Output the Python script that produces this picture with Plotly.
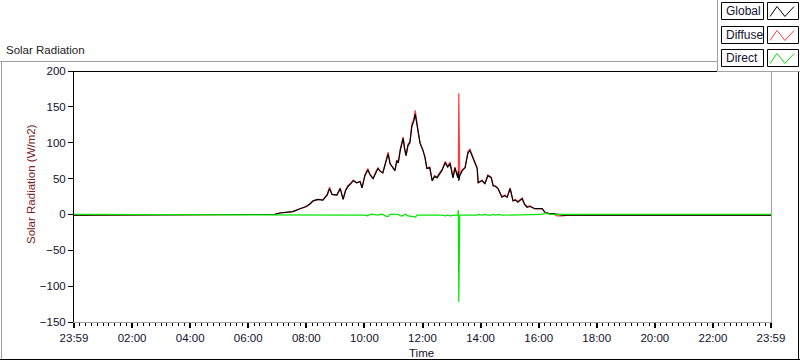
import plotly.graph_objects as go

# ---------------- data ----------------
times = [
    "00:00", "06:50", "06:55", "07:05", "07:20", "07:32", "07:47", "08:00", "08:08", "08:14", "08:24", "08:34",
    "08:43", "08:48", "08:53", "09:03", "09:10", "09:16", "09:21", "09:26", "09:32", "09:37", "09:44", "09:51",
    "09:55", "10:01", "10:07", "10:12", "10:18", "10:23", "10:28", "10:33", "10:38", "10:43", "10:49", "10:53",
    "10:58", "11:03", "11:07", "11:10", "11:14", "11:20", "11:23", "11:26", "11:30", "11:34", "11:38", "11:42",
    "11:45", "11:49", "11:52", "11:55", "12:01", "12:05", "12:09", "12:15", "12:20", "12:25", "12:30", "12:35",
    "12:40", "12:47", "12:52", "12:57", "13:03", "13:07", "13:10", "13:13", "13:14", "13:15", "13:16", "13:17",
    "13:22", "13:28", "13:34", "13:38", "13:44", "13:49", "13:53", "13:55", "14:03", "14:09", "14:15", "14:22",
    "14:26", "14:31", "14:36", "14:44", "14:50", "14:55", "15:01", "15:07", "15:12", "15:17", "15:26", "15:31",
    "15:36", "15:42", "15:52", "16:00", "16:07", "16:13", "16:23", "16:30", "16:38", "16:50", "17:00", "24:00",
]

global_wm2 = [
    -1, -1, 0, 2, 3, 4, 8, 11, 15, 19, 21, 20,
    27, 36, 28, 27, 36, 21, 33, 39, 43, 47, 44, 46,
    37, 54, 62, 55, 50, 58, 64, 60, 58, 70, 84, 71,
    66, 61, 75, 72, 89, 106, 92, 82, 96, 100, 123, 130,
    140, 121, 110, 99, 89, 80, 64, 65, 47, 53, 51, 57,
    61, 72, 66, 71, 51, 65, 58, 51, 60, 47, 50, 54,
    61, 65, 86, 89, 79, 72, 64, 44, 47, 43, 54, 51,
    40, 39, 36, 24, 26, 24, 36, 19, 20, 17, 22, 14,
    10, 11, 8, 8, 8, 3, 1, 1, 0, -1, -1, -1,
]

diffuse_wm2 = [
    -1, -1, 0, 2, 3, 4, 8, 11, 15, 19, 21, 20,
    28, 38, 28, 27, 37, 21, 34, 40, 44, 48, 44, 46,
    37, 55, 64, 55, 50, 59, 65, 60, 58, 72, 87, 71,
    66, 61, 76, 72, 91, 108, 92, 82, 98, 102, 126, 133,
    145, 122, 111, 100, 90, 80, 65, 66, 47, 54, 52, 58,
    62, 74, 67, 73, 52, 66, 59, 52, 55, 169, 110, 55,
    62, 66, 88, 91, 80, 73, 65, 44, 48, 43, 55, 52,
    40, 40, 36, 25, 27, 24, 37, 19, 21, 18, 23, 14,
    11, 12, 8, 8, 8, 3, 1, 1, -2, -2, -1, -1,
]

direct_wm2 = [
    0, 0, 0, 0, 0, 0, 0, 0, 0, 0, 0, 0,
    -1, -1, 0, 0, -1, 0, -1, -1, -1, -1, 0, 0,
    0, -1, -2, 0, 0, -1, -1, 0, 0, -2, -3, 0,
    0, 0, -1, 0, -2, -2, 0, 0, -2, -2, -3, -3,
    -4, -1, -1, -1, -1, 0, -1, -1, 0, -1, -1, -1,
    -1, -2, -1, -2, -1, -1, -1, -1, 6, -122, -60, -1,
    -1, -1, -2, -2, -1, -1, -1, 0, -1, 0, -1, -1,
    0, -1, 0, -1, -1, 0, -1, 0, -1, -1, -1, 0,
    -1, -1, 0, 0, 0, 2, 0, 0, 0, 0, 0, 0,
]

x_tick_hours = [0, 2, 4, 6, 8, 10, 12, 14, 16, 18, 20, 22, 24]
x_tick_labels = ["23:59", "02:00", "04:00", "06:00", "08:00", "10:00", "12:00",
                 "14:00", "16:00", "18:00", "20:00", "22:00", "23:59"]
y_tick_values = [-150, -100, -50, 0, 50, 100, 150, 200]

legend_names = ["Global", "Diffuse", "Direct"]
series_colors = {"Global": "#000000", "Diffuse": "#ff3c3c", "Direct": "#00e600"}

assert len(times) == len(global_wm2) == len(diffuse_wm2) == len(direct_wm2)


def to_hours(s):
    h, m = s.split(":")
    return int(h) + int(m) / 60.0


x_hours = [to_hours(t) for t in times]

# ---------------- layout geometry ----------------
W, H = 800, 361
L, R, T, B = 74, 29, 71, 39
PW, PH = W - L - R, H - T - B


def px(x):
    return (x - L) / PW


def py(y):
    return (T + PH - y) / PH


FONT = "Liberation Sans, Arial, sans-serif"
TXT = "#101030"

fig = go.Figure()
fig.add_trace(go.Scatter(x=x_hours, y=diffuse_wm2, mode="lines", name="Diffuse",
                         line=dict(color=series_colors["Diffuse"], width=1.2)))
fig.add_trace(go.Scatter(x=x_hours, y=global_wm2, mode="lines", name="Global",
                         line=dict(color=series_colors["Global"], width=1.2)))
fig.add_trace(go.Scatter(x=x_hours, y=direct_wm2, mode="lines", name="Direct",
                         line=dict(color=series_colors["Direct"], width=1.2)))

shapes = []


def hline(y, x0, x1, color, width=1):
    shapes.append(dict(type="line", xref="paper", yref="paper", x0=px(x0), x1=px(x1),
                       y0=py(y), y1=py(y), line=dict(color=color, width=width), layer="above"))


def vline(x, y0, y1, color, width=1):
    shapes.append(dict(type="line", xref="paper", yref="paper", x0=px(x), x1=px(x),
                       y0=py(y0), y1=py(y1), line=dict(color=color, width=width), layer="above"))


# outer panel frame
hline(61.5, 0, 717, "#a0a0a0")
vline(1.5, 61, 360, "#a0a0a0")
hline(359.5, 0, 800, "#000000")
vline(798.5, 72, 360, "#000000")

# plot frame (3D-inset style: dark top/left, light bottom/right)
vline(73.5, 71, 323, "#000000")
hline(71.5, 73, 717, "#000000")
vline(771.5, 72, 323, "#a0a0a0")
hline(322.5, 73, 772, "#a0a0a0")

# legend panel
shapes.append(dict(type="rect", xref="paper", yref="paper", x0=px(717.5), x1=px(801),
                   y0=py(-1), y1=py(71.5), line=dict(color="#a0a0a0", width=1),
                   fillcolor="white", layer="above"))

annotations = []
row_tops = [2.5, 26.5, 49.5]
for name, top in zip(legend_names, row_tops):
    bot = top + 17
    shapes.append(dict(type="rect", xref="paper", yref="paper", x0=px(721.5), x1=px(763.5),
                       y0=py(bot), y1=py(top), line=dict(color="#000000", width=1),
                       fillcolor="white", layer="above"))
    shapes.append(dict(type="rect", xref="paper", yref="paper", x0=px(767.5), x1=px(798.5),
                       y0=py(bot), y1=py(top), line=dict(color="#000000", width=1),
                       fillcolor="white", layer="above"))
    pts = [(770, bot - 3), (777, top + 4), (785, bot - 3), (794, top + 4)]
    path = "M " + " L ".join(f"{px(a):.5f},{py(b):.5f}" for a, b in pts)
    shapes.append(dict(type="path", xref="paper", yref="paper", path=path,
                       line=dict(color=series_colors[name], width=1), layer="above"))
    annotations.append(dict(text=name, xref="paper", yref="paper", x=px(723.5), y=py(top + 8.5),
                            xanchor="left", yanchor="middle", showarrow=False,
                            font=dict(family=FONT, size=12, color=TXT)))

# titles
annotations.append(dict(text="Solar Radiation", xref="paper", yref="paper", x=px(3.5), y=py(50),
                        xanchor="left", yanchor="middle", showarrow=False,
                        font=dict(family=FONT, size=11.5, color="#202020")))
annotations.append(dict(text="Solar Radiation (W/m2)", xref="paper", yref="paper", x=px(31),
                        y=py(184), xanchor="center", yanchor="middle", textangle=-90,
                        showarrow=False, font=dict(family=FONT, size=11.5, color="#7a2020")))
annotations.append(dict(text="Time", xref="paper", yref="paper", x=px(421), y=py(353),
                        xanchor="center", yanchor="middle", showarrow=False,
                        font=dict(family=FONT, size=11.5, color=TXT)))

fig.update_layout(
    width=W, height=H, autosize=False,
    margin=dict(l=L, r=R, t=T, b=B, pad=0),
    paper_bgcolor="white", plot_bgcolor="white",
    showlegend=False,
    shapes=shapes, annotations=annotations,
    font=dict(family=FONT, size=11, color=TXT),
    xaxis=dict(range=[0, 24], tickmode="array", tickvals=x_tick_hours, ticktext=x_tick_labels,
               ticks="outside", ticklen=5, tickwidth=2, tickcolor="black",
               showgrid=False, zeroline=False, showline=False,
               tickfont=dict(family=FONT, size=11.5, color=TXT),
               minor=dict(tick0=0, dtick=0.2, ticks="outside", ticklen=3, tickwidth=1,
                          tickcolor="black", showgrid=False)),
    yaxis=dict(range=[-150, 200], tickmode="array", tickvals=y_tick_values,
               ticks="outside", ticklen=5, tickwidth=1, tickcolor="black",
               showgrid=False, zeroline=False, showline=False,
               tickfont=dict(family=FONT, size=11.5, color=TXT)),
)

fig.write_html("out.html", config={"displayModeBar": False},
               post_script="document.body.style.margin='0px';document.body.style.overflow='hidden';")
